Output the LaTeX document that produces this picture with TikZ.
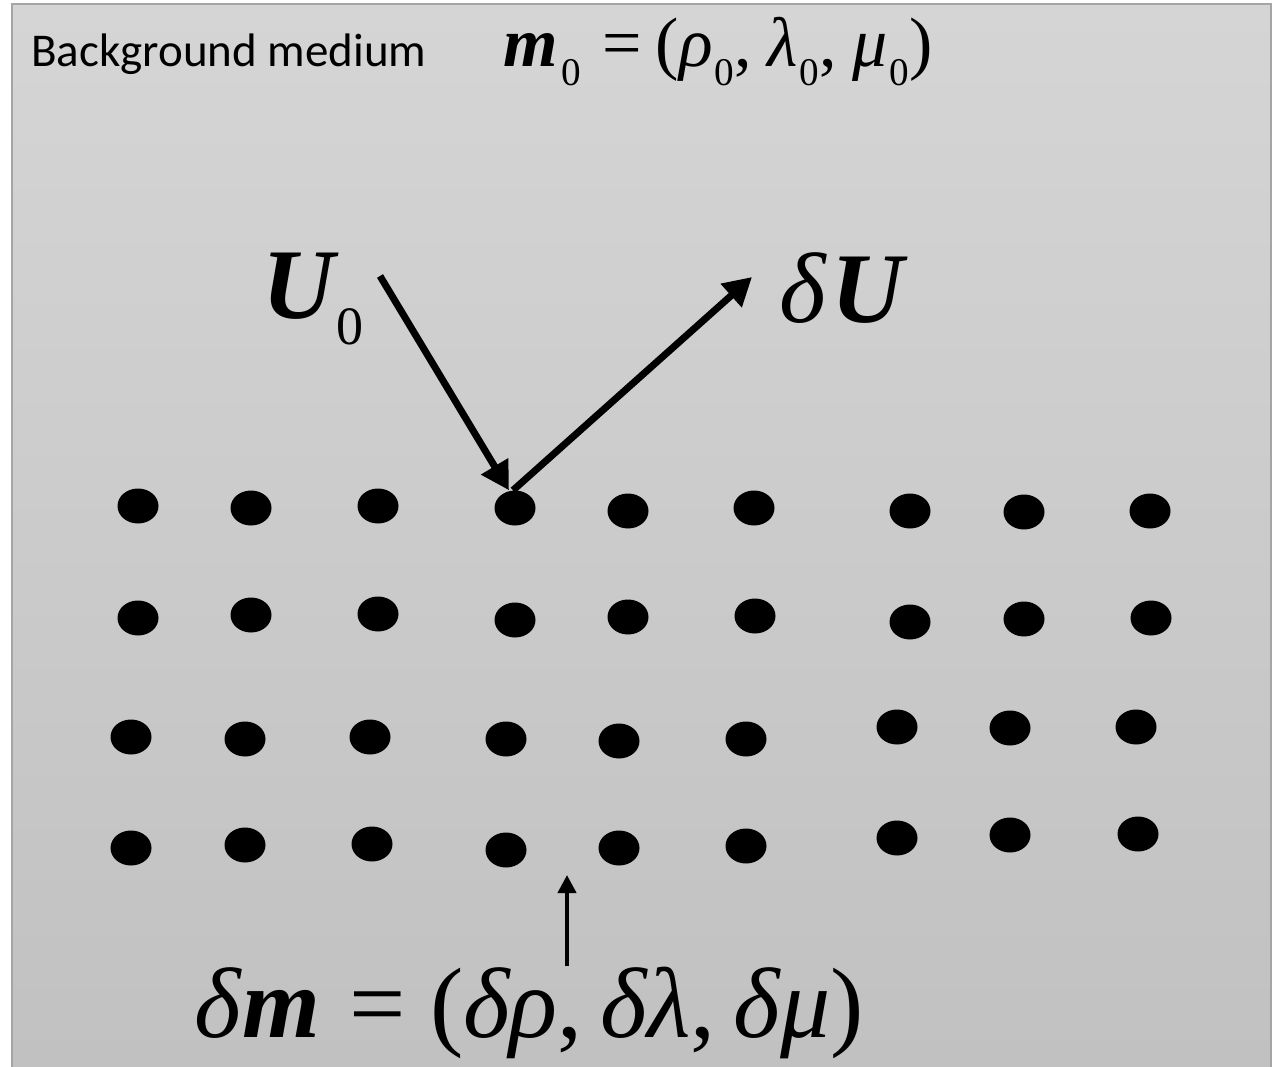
\documentclass[tikz,border=0pt]{standalone}
\usepackage{fontspec}
\setmainfont{Liberation Serif}
\newfontfamily\calibri{Carlito}
\usepackage{graphicx}
\usetikzlibrary{arrows.meta, shapes.geometric}

\definecolor{bgtop}{RGB}{213,213,213}
\definecolor{bgbottom}{RGB}{193,193,193}
\definecolor{framegray}{RGB}{165,165,165}

% lowered, smaller index as in the equation editor
\newcommand{\lsub}[2][0.54]{\raisebox{-0.26em}{\scalebox{#1}{#2}}}

\begin{document}
\begin{tikzpicture}[x=1pt, y=-1pt,
    scatterer/.style={ellipse, fill=black, inner sep=0pt, minimum width=41pt, minimum height=35pt},
    wave/.style={line width=7pt, -{Triangle[length=28pt, width=30pt]}},
    pointer/.style={line width=4pt, -{Triangle[length=18pt, width=18pt]}}]
    \useasboundingbox (0,0) rectangle (1281,1067);
    % medium
    \shade[top color=bgtop, bottom color=bgbottom] (12,4) rectangle (1271,1067);
    \draw[framegray, line width=2pt] (12,1067) -- (12,4) -- (1271,4) -- (1271,1067);

    \node[anchor=base west, inner sep=0pt, font=\calibri\fontsize{47}{56}\selectfont] (medium) at (31,67) {Background medium};
    \node[anchor=base west, inner sep=0pt, font=\fontsize{70}{80}\selectfont] (mzero) at (503,67)
        {{\bfseries\itshape m}\hspace{0.06em}\lsub[0.56]{0}\hspace{0.3em}=\hspace{0.2em}(\textit{ρ}\hspace{0.03em}\lsub[0.56]{0},\hspace{0.22em}\textit{λ}\hspace{0.03em}\lsub[0.56]{0},\hspace{0.22em}\textit{μ}\hspace{0.03em}\lsub[0.56]{0})};

    % scatterers, row by row
    \foreach \x/\y [count=\c] in {138/506, 251/508, 378/506, 515/508, 628/511, 754/508, 910/511, 1024/512, 1150/511}
        \node[scatterer] (d-1-\c) at (\x,\y) {};
    \foreach \x/\y [count=\c] in {138/618, 251/615, 378/614, 515/620, 628/617, 755/616, 910/622, 1024/619, 1151/618}
        \node[scatterer] (d-2-\c) at (\x,\y) {};
    \foreach \x/\y [count=\c] in {131/737, 245/739, 370/737, 506/739, 619/741, 746/739, 897/727, 1010/728, 1136/727}
        \node[scatterer] (d-3-\c) at (\x,\y) {};
    \foreach \x/\y [count=\c] in {131/848, 245/845, 372/844, 506/850, 619/848, 746/846, 897/838, 1010/835, 1138/834}
        \node[scatterer] (d-4-\c) at (\x,\y) {};

    % incident and scattered waves
    \node[anchor=base west, inner sep=0pt, font=\fontsize{100}{110}\selectfont] (uzero) at (262,318)
        {{\bfseries\itshape U}\hspace{0.02em}\lsub{0}};
    \node[anchor=base west, inner sep=0pt, font=\fontsize{100}{110}\selectfont] (du) at (779,322)
        {\textit{δ}\hspace{0.04em}{\bfseries\itshape U}};
    \coordinate (source) at (380,276);
    \coordinate (sink) at (752,277);
    \draw[wave] (source) -- ([xshift=-6pt]d-1-4.north);
    \draw[wave] ([xshift=-2pt]d-1-4.north) -- (sink);

    % perturbation
    \node[anchor=base west, inner sep=0pt, font=\fontsize{100}{110}\selectfont] (dm) at (194,1037)
        {\textit{δ}{\bfseries\itshape m}\hspace{0.3em}=\hspace{0.24em}(\textit{δρ},\hspace{0.18em}\textit{δλ},\hspace{0.18em}\textit{δμ})};
    \coordinate (hit) at (567,875);
    \draw[pointer] (hit |- 0,966) -- (hit);
\end{tikzpicture}
\end{document}
